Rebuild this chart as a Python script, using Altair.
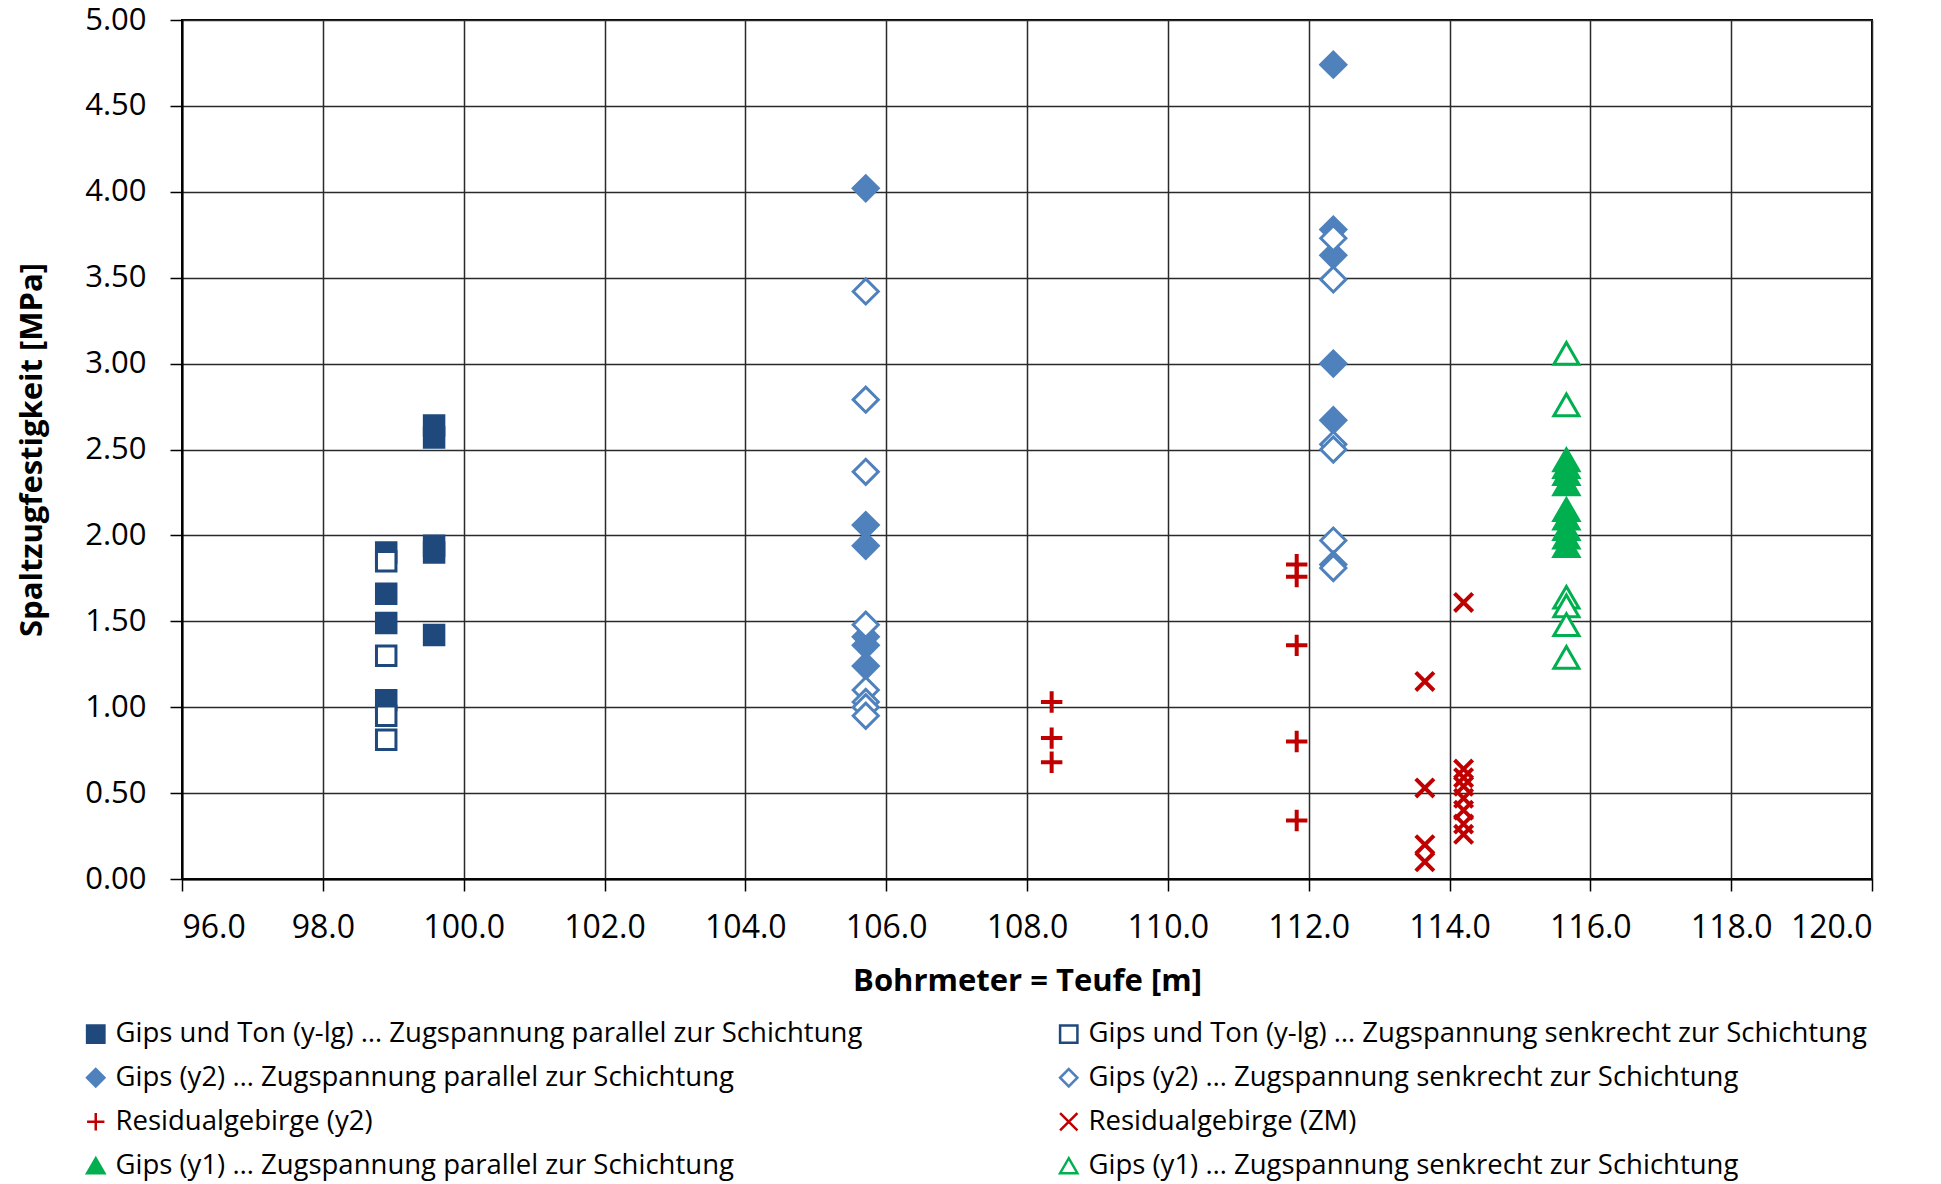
import altair as alt
import pandas as pd

labels = [
    "Gips und Ton (y-lg) … Zugspannung parallel zur Schichtung",
    "Gips und Ton (y-lg) … Zugspannung senkrecht zur Schichtung",
    "Gips (y2) … Zugspannung parallel zur Schichtung",
    "Gips (y2) … Zugspannung senkrecht zur Schichtung",
    "Residualgebirge (y2)",
    "Residualgebirge (ZM)",
    "Gips (y1) … Zugspannung parallel zur Schichtung",
    "Gips (y1) … Zugspannung senkrecht zur Schichtung",
]

# series data: depth [m] and splitting tensile strength [MPa]
s1_x = [98.9, 98.9, 98.9, 98.9, 99.58, 99.58, 99.58, 99.58, 99.58]
s1_y = [1.90, 1.66, 1.49, 1.04, 2.64, 2.57, 1.94, 1.90, 1.42]
s2_x = [98.9, 98.9, 98.9, 98.9]
s2_y = [1.85, 1.30, 0.95, 0.81]
s3_x = [105.71, 105.71, 105.71, 105.71, 105.71, 105.71, 112.35, 112.35, 112.35, 112.35, 112.35]
s3_y = [4.02, 2.06, 1.94, 1.41, 1.36, 1.24, 4.74, 3.78, 3.63, 3.00, 2.67]
s4_x = [105.71, 105.71, 105.71, 105.71, 105.71, 105.71, 105.71, 105.71,
        112.35, 112.35, 112.35, 112.35, 112.35, 112.35, 112.35]
s4_y = [3.42, 2.79, 2.37, 1.48, 1.10, 1.03, 1.00, 0.95,
        3.73, 3.49, 2.53, 2.50, 1.97, 1.83, 1.81]
s5_x = [108.35, 108.35, 108.35, 111.83, 111.83, 111.83, 111.83, 111.83]
s5_y = [1.03, 0.82, 0.68, 1.83, 1.76, 1.36, 0.80, 0.34]
s6_x = [113.65, 113.65, 113.65, 113.65, 114.2, 114.2, 114.2, 114.2, 114.2, 114.2, 114.2, 114.2]
s6_y = [1.15, 0.53, 0.20, 0.10, 1.61, 0.64, 0.59, 0.54, 0.47, 0.40, 0.32, 0.26]
s7_x = [115.66] * 9
s7_y = [2.44, 2.40, 2.36, 2.30, 2.15, 2.10, 2.04, 1.99, 1.94]
s8_x = [115.66] * 6
s8_y = [3.06, 2.76, 1.64, 1.59, 1.48, 1.29]

x_ticks = [96 + 2 * i for i in range(13)]
y_ticks = [0.5 * i for i in range(11)]

series_x = [s1_x, s2_x, s3_x, s4_x, s5_x, s6_x, s7_x, s8_x]
series_y = [s1_y, s2_y, s3_y, s4_y, s5_y, s6_y, s7_y, s8_y]
rows = []
for lab, xs, ys in zip(labels, series_x, series_y):
    for xv, yv in zip(xs, ys):
        rows.append({"Serie": lab, "Teufe": xv, "Festigkeit": yv})
df = pd.DataFrame(rows)

dark = "#1F497D"
mid = "#4F81BD"
red = "#C00000"
green = "#00B050"
plus_path = "M-1,0L1,0M0,-1L0,1"
x_path = "M-1,-1L1,1M-1,1L1,-1"

style = {
    labels[0]: ("square", dark, dark),
    labels[1]: ("square", dark, "white"),
    labels[2]: ("diamond", mid, mid),
    labels[3]: ("diamond", mid, "white"),
    labels[4]: (plus_path, red, "transparent"),
    labels[5]: (x_path, red, "transparent"),
    labels[6]: ("triangle-up", green, green),
    labels[7]: ("triangle-up", green, "white"),
}
# legend is filled column by column: left column = parallel / (y2), right column = senkrecht / (ZM)
legend_order = [labels[0], labels[2], labels[4], labels[6], labels[1], labels[3], labels[5], labels[7]]
shape_range = [style[l][0] for l in legend_order]
stroke_range = [style[l][1] for l in legend_order]
fill_range = [style[l][2] for l in legend_order]

font = "Open Sans"

enc = dict(
    x=alt.X("Teufe:Q", title="Bohrmeter = Teufe [m]",
            scale=alt.Scale(domain=[96, 120], nice=False, zero=False),
            axis=alt.Axis(values=x_ticks, format=".1f")),
    y=alt.Y("Festigkeit:Q", title="Spaltzugfestigkeit [MPa]",
            scale=alt.Scale(domain=[0, 5], nice=False),
            axis=alt.Axis(values=y_ticks, format=".2f")),
    shape=alt.Shape("Serie:N", scale=alt.Scale(domain=legend_order, range=shape_range)),
    color=alt.Color("Serie:N", scale=alt.Scale(domain=legend_order, range=stroke_range)),
    fill=alt.Fill("Serie:N", scale=alt.Scale(domain=legend_order, range=fill_range)),
)

base = alt.Chart(df)
sq = base.mark_point(size=380, strokeWidth=3, opacity=1, filled=False).encode(**enc).transform_filter(
    alt.FieldOneOfPredicate(field="Serie", oneOf=labels[0:2]))
dia = base.mark_point(size=630, strokeWidth=3, opacity=1, filled=False).encode(**enc).transform_filter(
    alt.FieldOneOfPredicate(field="Serie", oneOf=[labels[2], labels[3], labels[6], labels[7]]))
pls = base.mark_point(size=460, strokeWidth=4, opacity=1, filled=False).encode(**enc).transform_filter(
    alt.FieldOneOfPredicate(field="Serie", oneOf=[labels[4]]))
crs = base.mark_point(size=330, strokeWidth=4, opacity=1, filled=False).encode(**enc).transform_filter(
    alt.FieldOneOfPredicate(field="Serie", oneOf=[labels[5]]))

chart = alt.layer(sq, dia, pls, crs).properties(
    width=1690, height=859,
    autosize=alt.AutoSizeParams(type="none"),
    padding={"left": 182, "top": 20, "right": 69, "bottom": 305},
).configure_view(
    stroke="black", strokeWidth=2
).configure_axis(
    grid=True, gridColor="#2a2a2a", gridWidth=1.5,
    domainColor="black", domainWidth=2,
    tickColor="black", tickSize=12, tickWidth=1.5,
    labelFont=font, labelFontSize=32, labelColor="black",
    titleFont=font, titleFontSize=31, titleFontWeight="bold", titleColor="black",
).configure_axisX(
    labelPadding=21, titlePadding=23,
).configure_axisY(
    labelPadding=24, titlePadding=36, labelFontSize=31,
).configure_legend(
    orient="none", legendX=-100, legendY=1000,
    columns=2, columnPadding=192, rowPadding=15,
    title=None, labelFont=font, labelFontSize=27.5, labelColor="black",
    symbolSize=300, symbolStrokeWidth=2.5, labelOffset=6, labelLimit=1200,
)

chart.save("out.html", embed_options={"renderer": "svg", "actions": False})
